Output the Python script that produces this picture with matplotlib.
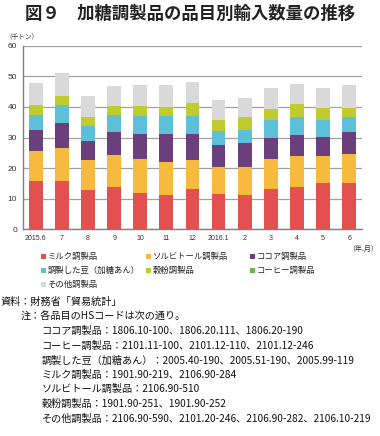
import numpy as np
import matplotlib
matplotlib.use('Agg')
import matplotlib.pyplot as plt
from matplotlib.patches import Rectangle

plt.rcParams['font.family'] = ['Noto Sans CJK JP', 'DejaVu Sans']

# 月別ラベル
months = ['2015.6', '7', '8', '9', '10', '11', '12', '2016.1', '2', '3', '4', '5', '6']

# 品目別輸入数量（千トン）
milk = [15.9, 15.7, 12.9, 13.7, 12.0, 11.2, 13.3, 11.7, 11.2, 13.3, 14.0, 15.2, 15.0]
sorbitol = [9.8, 11.0, 9.7, 10.7, 10.9, 10.8, 9.3, 8.7, 9.2, 9.8, 9.9, 8.7, 9.7]
cocoa = [6.8, 8.1, 6.3, 7.5, 8.2, 9.1, 8.5, 7.1, 7.7, 6.8, 7.0, 6.3, 7.2]
beans = [4.8, 5.9, 4.8, 5.4, 5.8, 5.8, 6.0, 4.8, 4.4, 6.0, 5.9, 5.5, 4.9]
flour = [3.4, 2.8, 3.1, 3.0, 3.4, 3.2, 4.1, 3.6, 4.1, 3.4, 4.1, 3.9, 2.9]
coffee = [0.0] * 13
other = [7.1, 7.5, 6.7, 6.7, 6.9, 7.1, 7.1, 6.3, 6.2, 6.9, 6.7, 6.5, 7.4]

series = [
    ('ミルク調製品', milk, '#E2504F'),
    ('ソルビトール調製品', sorbitol, '#F6BA3E'),
    ('ココア調製品', cocoa, '#6B3E7C'),
    ('調製した豆（加糖あん）', beans, '#5DBFD8'),
    ('穀粉調製品', flour, '#C0CC2E'),
    ('コーヒー調製品', coffee, '#6DB34F'),
    ('その他調製品', other, '#D9D9D9'),
]

W, H = 380, 436
fig = plt.figure(figsize=(W / 100, H / 100), dpi=100)
ax = fig.add_axes([0.060, 0.474, 0.893, 0.421])

x = np.arange(len(months))
bottom = np.zeros(len(months))
for name, vals, col in series:
    ax.bar(x, vals, 0.53, bottom=bottom, color=col, zorder=3)
    bottom += np.array(vals)

ax.set_xlim(-0.5, len(months) - 0.5)
ax.set_ylim(0, 60)
ax.set_yticks(range(0, 61, 10))
ax.grid(axis='y', color='#A0A0A0', linewidth=0.9, zorder=0)
ax.set_xticks(x)
ax.set_xticklabels(months, fontsize=5, family='Liberation Sans')
for lab in ax.get_yticklabels():
    lab.set_family('Liberation Sans')
    lab.set_fontsize(6)
ax.tick_params(length=0, pad=4, colors='#333333')
for s in ['top', 'right']:
    ax.spines[s].set_visible(False)
for s in ['left', 'bottom']:
    ax.spines[s].set_color('#808080')
    ax.spines[s].set_linewidth(1.0)

fig.text(0.5, 0.968, '図９　加糖調製品の品目別輸入数量の推移', ha='center', va='center',
         fontsize=12.5, fontweight='bold', color='#222222')
fig.text(0.015, 1 - 37 / H, '（千トン）', fontsize=4.8, va='center', color='#333333')
fig.text(0.915, 1 - 249 / H, '（年.月）', fontsize=5, va='center', color='#333333')

# 凡例（3列、行順）
col_x = [41, 146, 250]
row_y = [256, 270, 284]
for i, (name, vals, col) in enumerate(series):
    cx = col_x[i % 3]
    cy = row_y[i // 3]
    fig.add_artist(Rectangle((cx / W, 1 - (cy + 2.5) / H), 5 / W, 5 / H,
                             transform=fig.transFigure, facecolor=col, edgecolor='none'))
    fig.text((cx + 6.5) / W, 1 - cy / H, name, fontsize=6, va='center', color='#222222')

notes = [
    (0.0, '資料：財務省「貿易統計」'),
    (0.053, '注：各品目のHSコードは次の通り。'),
    (0.110, 'ココア調製品：1806.10-100、1806.20.111、1806.20-190'),
    (0.110, 'コーヒー調製品：2101.11-100、2101.12-110、2101.12-246'),
    (0.110, '調製した豆（加糖あん）：2005.40-190、2005.51-190、2005.99-119'),
    (0.110, 'ミルク調製品：1901.90-219、2106.90-284'),
    (0.110, 'ソルビトール調製品：2106.90-510'),
    (0.110, '穀粉調製品：1901.90-251、1901.90-252'),
    (0.110, 'その他調製品：2106.90-590、2101.20-246、2106.90-282、2106.10-219'),
]
y0 = 0.307
for i, (xx, t) in enumerate(notes):
    fig.text(xx, y0 - i * 0.0333, t, fontsize=7.3, va='center', color='#111111')

fig.savefig('out.png', dpi=100)
